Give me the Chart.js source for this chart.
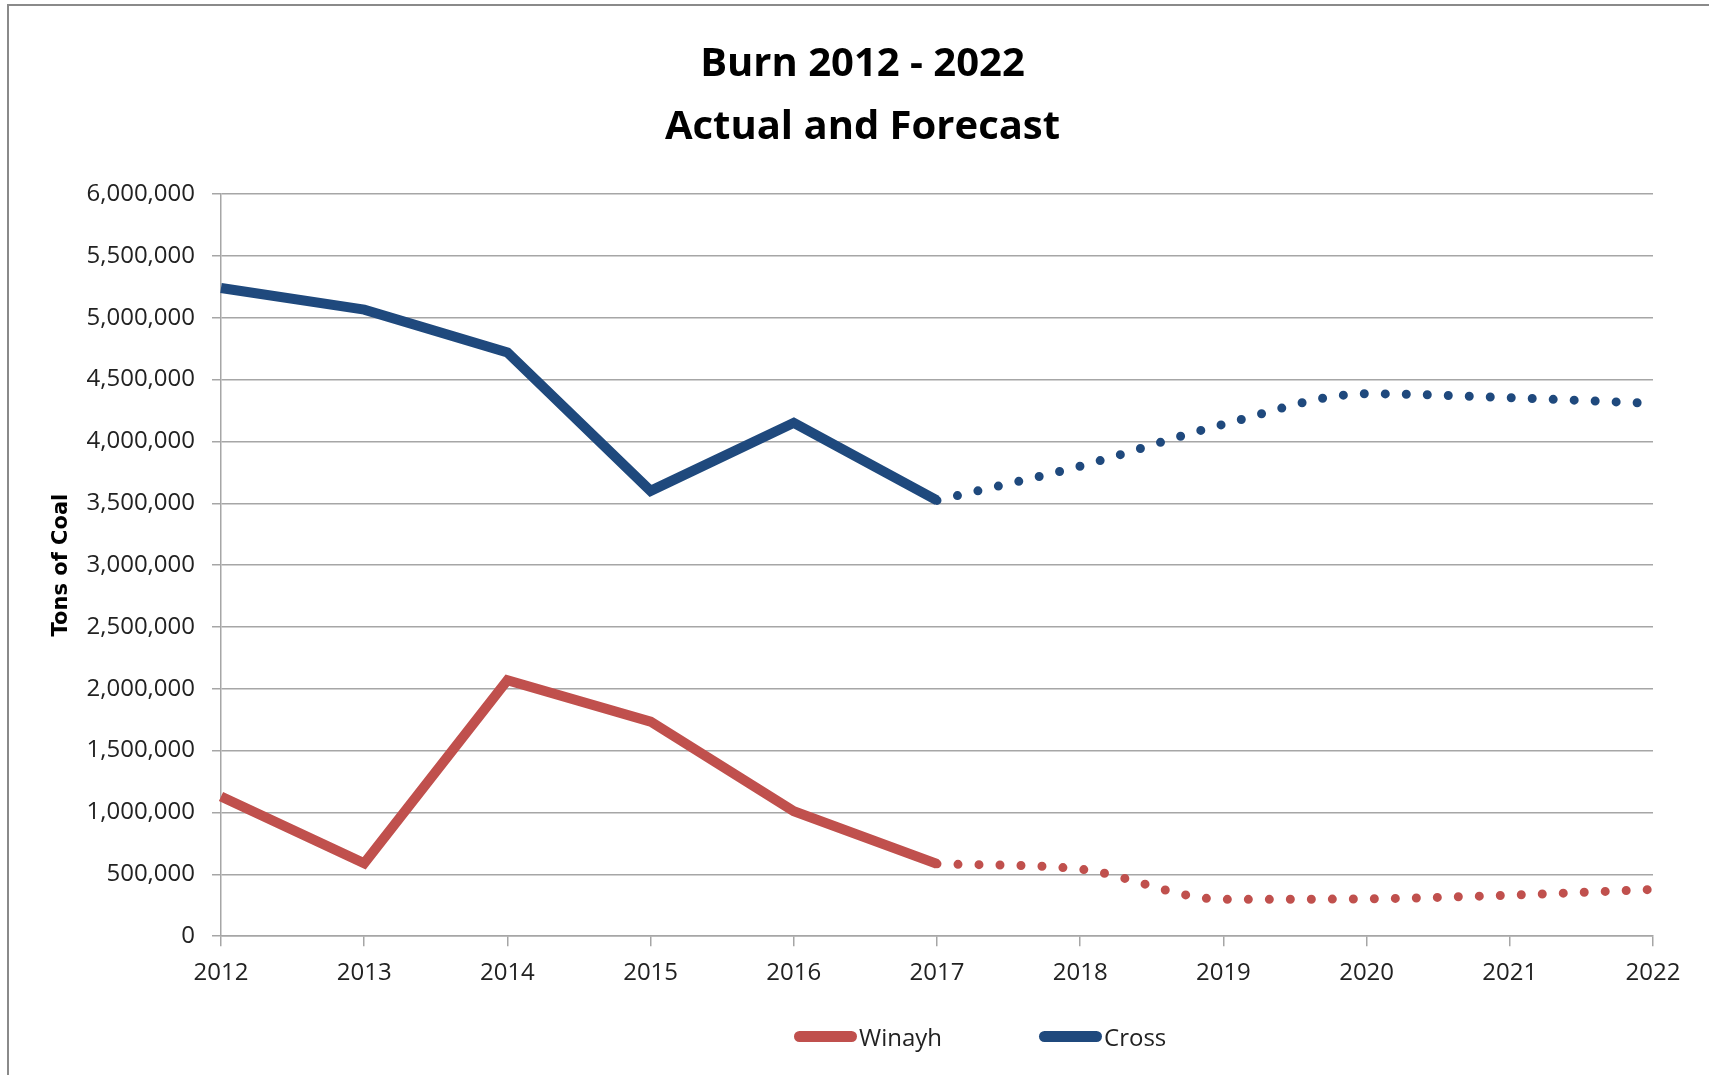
<!DOCTYPE html>
<html>
<head>
<meta charset="utf-8">
<script src="https://cdn.jsdelivr.net/npm/chart.js@4.4.1/dist/chart.umd.min.js"></script>
<style>
  html, body { margin: 0; padding: 0; background: #fff; overflow: hidden; }
  #frame { position: absolute; left: 7px; top: 4px; width: 1800px; height: 1200px;
           border-left: 2px solid #8a8a8a; border-top: 2px solid #8a8a8a; }
  #wrap { position: absolute; left: 0; top: 0; width: 1709px; height: 1075px; }
  #legend { position: absolute; left: 794px; top: 1019px; display: flex; gap: 97px;
            font-family: "Open Sans", sans-serif; font-size: 24px; color: #222; }
  .item { display: flex; align-items: center; gap: 2px; height: 34px; }
  .swatch { width: 63px; height: 11px; border-radius: 6px; }
</style>
</head>
<body>
<div id="frame"></div>
<div id="wrap"><canvas id="burnChart"></canvas></div>
<div id="legend"></div>
<script>
// years on the x axis
const years = ["2012", "2013", "2014", "2015", "2016", "2017", "2018", "2019", "2020", "2021", "2022"];

// Winayh: actual through 2017, forecast from 2017 on
const winayhActual   = [1130000, 590000, 2070000, 1735000, 1010000, 585000, null, null, null, null, null];
const winayhForecast = [null, null, null, null, null, 585000, 542000, 298000, 302000, 332000, 378000];

// Cross
const crossActual   = [5240000, 5065000, 4720000, 3600000, 4150000, 3523000, null, null, null, null, null];
const crossForecast = [null, null, null, null, null, 3523000, 3800000, 4138000, 4385000, 4353000, 4307000];

const RED = "#C0504D";
const BLUE = "#1F497D";
const GRID = "#a6a6a6";

function actualLine(label, data, color) {
    return {
        label, data,
        borderColor: color, backgroundColor: color,
        borderWidth: 10, pointRadius: 0, tension: 0,
        spanGaps: false
    };
}

function forecastLine(label, data, color) {
    return {
        label, data,
        borderColor: color, backgroundColor: color,
        borderWidth: 9, borderDash: [0, 21], borderCapStyle: "round",
        pointRadius: 0, cubicInterpolationMode: "monotone",
        spanGaps: false
    };
}

function drawChart() {
    const ctx = document.getElementById("burnChart");
    const tickFont = { family: "'Open Sans', sans-serif", size: 24 };

    new Chart(ctx, {
        type: "line",
        data: {
            labels: years,
            datasets: [
                actualLine("Winayh", winayhActual, RED),
                forecastLine("Winayh", winayhForecast, RED),
                actualLine("Cross", crossActual, BLUE),
                forecastLine("Cross", crossForecast, BLUE)
            ]
        },
        options: {
            responsive: true,
            maintainAspectRatio: false,
            animation: false,
            layout: { padding: { left: 16, right: 0, top: 0, bottom: 74 } },
            plugins: {
                legend: { display: false },
                tooltip: { enabled: false },
                title: {
                    display: true,
                    text: ["Burn 2012 - 2022", "Actual and Forecast"],
                    color: "#000",
                    font: { family: "'Open Sans', sans-serif", size: 40, weight: "bold", lineHeight: 1.575 },
                    padding: { top: 33, bottom: 35 }
                }
            },
            scales: {
                x: {
                    grid: { drawOnChartArea: false, drawTicks: true, tickLength: 10, color: GRID, lineWidth: 1.5 },
                    border: { color: GRID, width: 1.5 },
                    ticks: { color: "#222", font: tickFont, padding: 13, maxRotation: 0 },
                    // keep the plot's right edge where the original has it
                    afterFit: scale => { scale.paddingRight = 56; }
                },
                y: {
                    min: 0, max: 6000000,
                    grid: { color: GRID, lineWidth: 1.5, tickLength: 9 },
                    border: { color: GRID, width: 1.5 },
                    ticks: {
                        stepSize: 500000, color: "#222", font: tickFont, padding: 17,
                        callback: v => v.toLocaleString("en-US")
                    },
                    title: {
                        display: true, text: "Tons of Coal", color: "#000",
                        font: { family: "'DejaVu Sans', sans-serif", size: 21, weight: "bold" },
                        padding: { top: 33, bottom: 0 }
                    },
                    afterFit: scale => { scale.width = 205; }
                }
            }
        }
    });

    // html legend, one entry per series
    const legend = document.getElementById("legend");
    [["Winayh", RED], ["Cross", BLUE]].forEach(([name, color]) => {
        legend.insertAdjacentHTML("beforeend",
            `<div class="item"><span class="swatch" style="background:${color}"></span><span>${name}</span></div>`);
    });
}

drawChart();
</script>
</body>
</html>
